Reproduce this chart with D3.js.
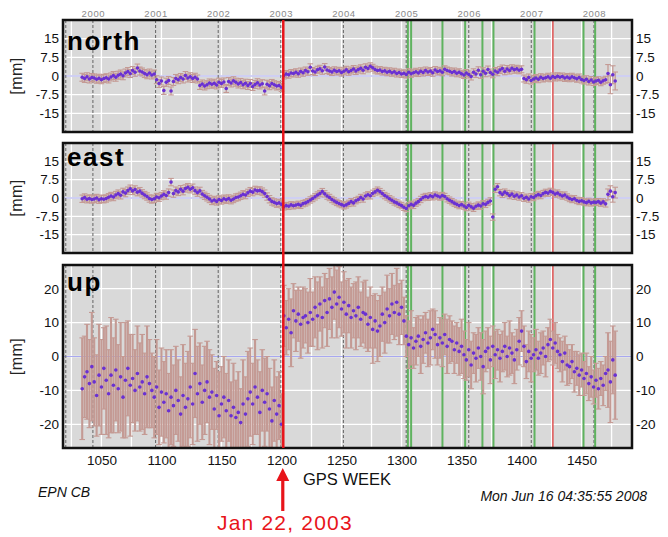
<!DOCTYPE html>
<html>
<head>
<meta charset="utf-8">
<script src="https://cdn.jsdelivr.net/npm/d3@7"></script>
<style>
  html, body { margin: 0; padding: 0; background: #fff; }
  svg { display: block; font-family: "Liberation Sans", Arial, sans-serif; }
</style>
</head>
<body>
<svg id="chart" width="668" height="537"></svg>
<script>
// --- data (mm), one value every 2 GPS weeks ---
const weeks = d3.range(1034, 1479, 2);

const north = [
  -0.5, -1.0, -0.3, -1.2, -0.6,  -0.8, -1.3, -0.9, -1.5, -1.0,
  -0.7, -1.2, -0.4, 0.2, -0.5,   0.3, 0.8, 0.1, 1.2, 1.8,
  1.0, 2.2, 1.5, 3.2, 2.0,       1.6, 1.0, 0.5, 1.2, 0.4,
  0.8, -1.5, -3.0, -2.0, -5.8,   -2.5, -1.8, -6.0, -2.2, -1.0,
  -1.5, -0.6, -1.2, 0.2, -0.8,   -0.3, -1.0, -0.5, -1.2, -3.8,
  -3.2, -4.0, -3.5, -2.8, -3.3,  -2.9, -3.6, -2.5, -3.0, -2.4,
  -5.0, -2.2, -2.8, -1.9, -2.5,  -3.2, -2.6, -3.5, -2.9, -3.8,
  -3.0, -4.2, -3.4, -2.7, -3.6,  -3.1, -6.0, -3.3, -3.9, -3.0,
  -3.5, -4.0, -3.8, -4.6,
  0.2, 0.8, 0.5, 1.2, 1.0,       1.5, 0.9, 1.8, 1.3, 2.2,
  1.7, 3.5, 2.0, 1.6, 2.5,       2.9, 2.1, 3.6, 2.4, 2.0,
  1.6, 2.3, 1.8, 2.1, 1.4,       1.9, 2.5, 1.7, 2.2, 2.8,
  2.0, 2.6, 3.1, 2.3, 3.5,       3.0, 3.9, 3.3, 2.6, 2.2,
  2.4, 1.8, 2.1, 1.5, 1.9,       1.3, 1.7, 1.0, 1.4, 0.8,
  1.1, 0.6, 1.5, 0.9, 1.3,       1.7, 1.2, 1.9, 1.4, 2.2,
  1.6, 2.0, 1.3, 2.4, 1.8,       2.1, 1.5, 2.7, 2.2, 1.9,
  1.4, 1.8, 1.1, 1.5, 0.9,       0.4, 1.2, 0.6, -0.2, 1.5,
  0.8, 2.3, 0.5, 1.9, 1.1,       2.6, 1.4, 0.7, 2.0, 1.5,
  2.4, 3.0, 1.9, 2.8, 2.2,       3.1, 2.5, 2.9, 2.3, 2.7,
  -1.0, -1.5, -0.6, -1.8, -1.2,  -0.8, -1.3, -0.5, -1.0, -0.7,
  -0.3, -0.9, -0.2, -0.6, -0.1,  -0.5, -0.2, -0.8, -0.4, -0.9,
  -0.3, -0.7, -1.1, -0.6, -1.4,  -1.8, -1.3, -2.2, -1.6, -2.4,
  -2.0, -1.7, -2.5, -1.9, -1.5,  1.0, -3.5, 0.5, -2.0
];

const east = [
  -0.3, 0.2, -0.5, -0.2, -0.6,   -0.4, 0.0, -0.7, -0.3, -0.5,
  -0.2, 0.3, 0.8, 0.4, 1.2,      1.8, 1.1, 2.5, 2.0, 3.0,
  3.8, 2.9, 3.5, 2.4, 2.8,       1.9, 1.2, 0.6, -0.2, -0.6,
  -0.3, 0.4, 0.1, 0.8, 1.5,      1.0, 2.2, 6.5, 1.8, 3.0,
  2.5, 3.6, 2.8, 3.9, 4.4,       3.6, 4.2, 3.0, 2.2, 2.9,
  1.6, 0.9, 0.3, -0.4, -1.2,     -0.8, -1.4, -0.6, -1.0, -0.3,
  -0.7, -0.2, -0.9, -0.4, 0.2,   0.4, 0.9, 1.5, 1.2, 2.1,
  2.8, 2.4, 3.3, 2.9, 3.1,       2.6, 1.8, 0.6, -0.5, -1.4,
  -1.8, -2.3, -2.0, -2.6,
  -3.6, -3.1, -3.4, -2.8, -3.2,  -2.9, -2.6, -3.0, -2.3, -2.0,
  -1.5, -0.8, -0.2, 0.5, 1.2,    1.8, 2.6, 1.7, 0.8, 0.2,
  -0.6, -1.2, -1.8, -2.3, -2.7,  -3.2, -2.8, -2.2, -1.5, -2.0,
  -1.1, -0.6, 0.2, -0.4, 0.8,    1.3, 0.9, 1.9, 2.5, 3.2,
  2.6, 1.8, 1.0, 0.4, -0.3,      -0.9, -1.6, -2.0, -2.6, -3.1,
  -3.8, -4.3, -3.2, -2.6, -3.0,  -2.1, -1.5, -0.6, 0.2, 0.6,
  0.3, 0.9, 0.5, 1.2, 0.8,       0.4, 1.0, 0.6, -0.3, -0.9,
  -1.5, -2.1, -2.6, -3.1, -2.7,  -3.3, -3.9, -3.0, -3.6, -4.2,
  -3.4, -2.9, -3.3, -2.4, -2.6,  -1.8, -1.2, -7.8, 3.6, 4.6,
  2.2, 1.5, 2.4, 1.8, 1.0,       1.6, 0.7, 1.2, 0.4, 0.9,
  -0.1, 0.3, -0.4, 0.5, 0.2,     0.9, 1.4, 1.0, 1.8, 2.3,
  2.0, 2.7, 2.3, 1.6, 2.0,       1.3, 0.8, 1.2, 0.4, -0.2,
  -0.6, -0.3, -1.0, -1.4, -1.1,  -1.6, -1.9, -1.4, -2.0, -1.7,
  -1.8, -1.5, -2.1, -1.6, -2.4,  1.5, 2.8, 0.5, 2.2
];

const up = [
  -9.5, -6.0, -4.5, -8.0, -3.0,     -7.5, -11.5, -5.5, -9.0, -3.5,
  -7.0, -11.0, -5.5, -8.5, -4.0,    -9.5, -6.0, -12.0, -7.0, -3.5,
  -8.5, -6.5, -10.0, -5.0, -9.0,    -7.5, -11.0, -6.0, -8.0, -10.0,
  -12.0, -9.0, -15.0, -10.5, -13.5, -11.0, -16.0, -12.0, -14.5, -10.0,
  -13.0, -17.0, -11.5, -15.0, -12.5, -9.0, -14.0, -5.0, -11.0, -8.0,
  -13.5, -10.0, -7.5, -12.0, -10.5, -15.5, -11.5, -17.5, -14.0, -12.0,
  -16.0, -13.0, -17.5, -15.0, -18.0, -16.5, -19.5, -14.0, -17.0, -12.5,
  -10.5, -14.0, -9.0, -12.0, -16.5, -10.0, -13.5, -11.0, -15.5, -19.0,
  -13.0, -17.0, -14.5, -20.0,
  12.0, 8.5, 11.0, 7.0, 13.5,       10.5, 12.5, 9.5, 11.5, 12.0,
  10.0, 13.0, 11.0, 14.5, 12.0,     15.5, 11.5, 16.5, 13.0, 17.0,
  14.5, 19.0, 15.5, 17.5, 14.0,     16.0, 12.5, 15.0, 11.5, 13.5,
  12.0, 14.5, 11.0, 13.0, 12.5,     9.5, 11.5, 8.0, 10.5, 7.5,
  9.0, 12.5, 10.0, 14.0, 12.0,      15.5, 13.0, 16.0, 12.5, 14.5,
  10.5, 6.0, 3.5, 5.5, 2.5,         4.5, 6.0, 3.0, 5.0, 7.0,
  4.0, 5.5, 8.0, 6.5, 3.5,          5.5, 4.0, 6.5, 3.0, 5.0,
  4.5, 2.0, 4.0, 1.5, 3.0,          0.5, -1.0, 2.0, -2.5, 1.0,
  -0.5, 2.5, 0.0, -3.0, 1.5,        2.5, -1.0, 3.0, 0.5, 2.0,
  -0.5, 1.5, 3.0, 0.0, 2.5,         1.0, -1.0, 2.0, 4.5, 7.5,
  3.0, -1.5, 1.5, -0.5, 0.5,        2.0, -0.5, 1.0, 2.5, 0.0,
  3.5, 5.0, 2.5, 4.0, 1.5,          0.5, -1.5, 1.0, -2.5, -3.0,
  -1.5, -4.5, -3.5, -5.5, -4.0,     -6.5, -5.0, -8.0, -6.0, -9.0,
  -7.0, -9.5, -6.5, -8.5, -5.0,     -4.0, -7.5, -1.0, -5.5
];

// half-length of the up error bars (mm)
const upSig = [
  15, 12, 14, 13, 16,  13, 12, 15, 14, 12,  16, 13, 17, 14, 15,  13, 16, 12, 17, 14,
  15, 13, 12, 14, 13,  14, 12, 15, 13, 11,  12, 14, 11, 13, 12,  13, 11, 14, 12, 13,
  12, 11, 15, 13, 14,  15, 12, 13, 14, 12,  11, 13, 12, 14, 11,  12, 10, 13, 11, 12,
  11, 12, 10, 13, 11,  12, 10, 13, 11, 14,  13, 12, 14, 11, 12,  12, 13, 11, 12, 10,
  12, 11, 10, 9,
  9, 8, 9, 10, 8,  9, 8, 10, 9, 8,  9, 10, 8, 9, 10,  8, 9, 8, 10, 9,
  9, 8, 10, 9, 8,  9, 10, 8, 9, 8,  10, 9, 8, 9, 10,  8, 9, 10, 8, 9,
  9, 8, 9, 10, 8,  9, 8, 10, 9, 8,  7, 6, 7, 8, 6,  7, 6, 8, 7, 6,
  7, 8, 6, 7, 6,  6, 7, 6, 8, 7,  6, 7, 6, 7, 8,  7, 6, 8, 7, 6,
  7, 6, 7, 8, 6,  6, 7, 6, 7, 6,  7, 6, 7, 6, 8,  6, 7, 6, 7, 6,
  6, 5, 6, 7, 5,  6, 5, 6, 5, 6,  5, 6, 5, 6, 5,  5, 6, 5, 6, 5,
  5, 6, 5, 6, 5,  5, 6, 5, 6, 5,  5, 6, 5, 6, 5,  11, 12, 10, 13
];

// north / east error bars: one size per time span
const sigBreaks = [1202, 1472];
const northSig = [1.6, 1.4, 3.6];
const eastSig = [1.5, 1.3, 2.2];

// event lines (GPS week)
const yearLabels = ["2000", "2001", "2002", "2003", "2004", "2005", "2006", "2007", "2008"];
const yearWeeks = [1042.9, 1095.1, 1147.3, 1199.4, 1251.6, 1303.9, 1356.0, 1408.1, 1460.3];
const extraDashed = [1020.3];
const greenWeeks = [1305.3, 1308.0, 1334.1, 1353.0, 1367.4, 1376.6, 1410.8, 1451.6, 1461.3];
const minorRedWeeks = [1426.1];
const mainRedWeek = 1201.5;

const xTicks = [1050, 1100, 1150, 1200, 1250, 1300, 1350, 1400, 1450];
const gridWeeks = d3.range(1025, 1490, 25);
const neTicks = [-15, -7.5, 0, 7.5, 15];
const upTicks = [-20, -10, 0, 10, 20];

// --- drawing ---
const svg = d3.select("#chart");
const left = 63, right = 632;
const x = d3.scaleLinear().domain([1018, 1492]).range([left, right]);

const panels = [
  { id: "north", vals: north, sig: w => northSig[d3.bisectRight(sigBreaks, w)], top: 20, bottom: 132, lim: 22.5, ticks: neTicks, labelY: 50, bw: 1.3 },
  { id: "east", vals: east, sig: w => eastSig[d3.bisectRight(sigBreaks, w)], top: 143, bottom: 253, lim: 22.5, ticks: neTicks, labelY: 166, bw: 1.3 },
  { id: "up", vals: up, sig: (w, i) => upSig[i], top: 265, bottom: 448, lim: 27, ticks: upTicks, labelY: 291, bw: 2.1 }
];

const font = 13.5;

panels.forEach(p => {
  const y = d3.scaleLinear().domain([-p.lim, p.lim]).range([p.bottom, p.top]);
  const g = svg.append("g");

  g.append("clipPath").attr("id", "clip-" + p.id)
    .append("rect").attr("x", left).attr("y", p.top).attr("width", right - left).attr("height", p.bottom - p.top);

  const inner = g.append("g").attr("clip-path", `url(#clip-${p.id})`);

  inner.append("rect")
    .attr("x", left).attr("y", p.top).attr("width", right - left).attr("height", p.bottom - p.top)
    .attr("fill", "#d9d9d9");

  // grid
  inner.selectAll(".vg").data(gridWeeks).join("line")
    .attr("x1", d => x(d)).attr("x2", d => x(d))
    .attr("y1", p.top).attr("y2", p.bottom)
    .attr("stroke", "#fff").attr("stroke-width", 1.3);
  inner.selectAll(".hg").data(p.ticks).join("line")
    .attr("x1", left).attr("x2", right)
    .attr("y1", d => y(d)).attr("y2", d => y(d))
    .attr("stroke", "#fff").attr("stroke-width", 1.3);

  // zero line
  inner.append("line")
    .attr("x1", left).attr("x2", right).attr("y1", y(0)).attr("y2", y(0))
    .attr("stroke", "#a8a8f0").attr("stroke-width", 1);

  // year / dashed lines
  inner.selectAll(".dl").data(yearWeeks.concat(extraDashed)).join("line")
    .attr("x1", d => x(d)).attr("x2", d => x(d))
    .attr("y1", p.top).attr("y2", p.bottom)
    .attr("stroke", "#6e6e6e").attr("stroke-width", 1.1).attr("stroke-dasharray", "3,2");

  // green events
  inner.selectAll(".gl").data(greenWeeks).join("line")
    .attr("x1", d => x(d)).attr("x2", d => x(d))
    .attr("y1", p.top).attr("y2", p.bottom)
    .attr("stroke", "#5fb35f").attr("stroke-width", 2);

  inner.selectAll(".rl").data(minorRedWeeks).join("line")
    .attr("x1", d => x(d)).attr("x2", d => x(d))
    .attr("y1", p.top).attr("y2", p.bottom)
    .attr("stroke", "#e05555").attr("stroke-width", 1.5);

  // error bars
  const pts = weeks.map((w, i) => ({ w, v: p.vals[i], s: p.sig(w, i) }));
  const eb = inner.append("g").attr("stroke", "#c49a94").attr("stroke-width", p.bw);
  eb.selectAll("line.bar").data(pts).join("line").attr("class", "bar")
    .attr("x1", d => x(d.w)).attr("x2", d => x(d.w))
    .attr("y1", d => y(d.v - d.s)).attr("y2", d => y(d.v + d.s));
  eb.selectAll("line.ct").data(pts).join("line").attr("class", "ct")
    .attr("x1", d => x(d.w) - 2.8).attr("x2", d => x(d.w) + 2.8)
    .attr("y1", d => y(d.v + d.s)).attr("y2", d => y(d.v + d.s))
    .attr("stroke-width", 1.1);
  eb.selectAll("line.cb").data(pts).join("line").attr("class", "cb")
    .attr("x1", d => x(d.w) - 2.8).attr("x2", d => x(d.w) + 2.8)
    .attr("y1", d => y(d.v - d.s)).attr("y2", d => y(d.v - d.s))
    .attr("stroke-width", 1.1);

  // points
  inner.append("g").selectAll("circle").data(pts).join("circle")
    .attr("cx", d => x(d.w)).attr("cy", d => y(d.v)).attr("r", 1.8)
    .attr("fill", "#6a30d2");

  // frame
  g.append("rect")
    .attr("x", left).attr("y", p.top).attr("width", right - left).attr("height", p.bottom - p.top)
    .attr("fill", "none").attr("stroke", "#111").attr("stroke-width", 2.5);

  // panel label
  g.append("text").attr("x", 67).attr("y", p.labelY)
    .attr("font-size", 26).attr("font-weight", "bold").attr("letter-spacing", 1.5)
    .attr("fill", "#000").text(p.id);

  // y axes both sides
  const fmt = d => String(d);
  const ax = d3.axisLeft(y).tickValues(p.ticks).tickFormat(fmt).tickSize(0).tickPadding(4);
  const axR = d3.axisRight(y).tickValues(p.ticks).tickFormat(fmt).tickSize(0).tickPadding(4);
  [[ax, left], [axR, right]].forEach(([a, xx]) => {
    const ga = svg.append("g").attr("transform", `translate(${xx},0)`).call(a);
    ga.select(".domain").remove();
    ga.selectAll("text").attr("font-size", font).attr("font-family", "Liberation Sans, Arial, sans-serif").attr("fill", "#111");
  });

  svg.append("text")
    .attr("transform", `translate(22,${(p.top + p.bottom) / 2}) rotate(-90)`)
    .attr("text-anchor", "middle").attr("font-size", 16).attr("letter-spacing", 0.5)
    .attr("fill", "#222").text("[mm]");
});

// main red line through all panels
svg.append("line")
  .attr("x1", x(mainRedWeek)).attr("x2", x(mainRedWeek))
  .attr("y1", 20).attr("y2", 448)
  .attr("stroke", "#e8141a").attr("stroke-width", 2.5);

// bottom axis
const axB = d3.axisBottom(x).tickValues(xTicks).tickFormat(d => String(d)).tickSize(0).tickPadding(7.5);
const gb = svg.append("g").attr("transform", "translate(0,448)").call(axB);
gb.select(".domain").remove();
gb.selectAll("text").attr("font-size", font).attr("font-family", "Liberation Sans, Arial, sans-serif").attr("fill", "#111");

// top year axis
const axT = d3.axisTop(x).tickValues(yearWeeks).tickFormat((d, i) => yearLabels[i]).tickSize(0).tickPadding(3.5);
const gt = svg.append("g").attr("transform", "translate(0,20)").call(axT);
gt.select(".domain").remove();
gt.selectAll("text").attr("font-size", 9.5).attr("letter-spacing", 0.6)
  .attr("font-family", "Liberation Sans, Arial, sans-serif").attr("fill", "#8a8a8a");

svg.append("text").attr("x", 303).attr("y", 485).attr("font-size", 16.5).attr("fill", "#111").text("GPS WEEK");
svg.append("text").attr("x", 38).attr("y", 497).attr("font-size", 14).attr("font-style", "italic").attr("fill", "#111").text("EPN CB");
svg.append("text").attr("x", 647).attr("y", 501).attr("text-anchor", "end").attr("font-size", 14).attr("font-style", "italic").attr("fill", "#111").text("Mon Jun 16 04:35:55 2008");

// arrow + date
const ax0 = x(mainRedWeek) - 0.5;
svg.append("line").attr("x1", ax0).attr("x2", ax0).attr("y1", 478).attr("y2", 511)
  .attr("stroke", "#e8141a").attr("stroke-width", 3.2);
svg.append("path").attr("d", `M${ax0},468 L${ax0 - 6.5},481 L${ax0 + 6.5},481 Z`).attr("fill", "#e8141a");
svg.append("text").attr("x", 217).attr("y", 530).attr("font-size", 21).attr("letter-spacing", 1.2)
  .attr("fill", "#e8141a").text("Jan 22, 2003");
</script>
</body>
</html>
